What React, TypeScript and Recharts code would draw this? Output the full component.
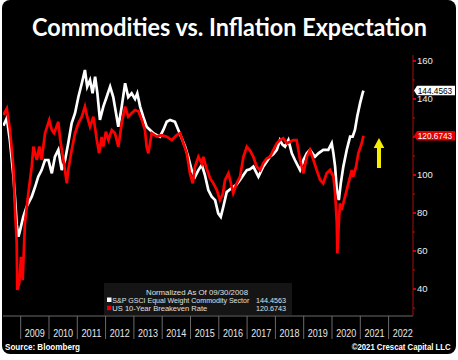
import React from "react";
import { LineChart, Line, XAxis, YAxis, ReferenceLine, ReferenceDot } from "recharts";

// ---- Data (decimal year, normalized value) ----
const whiteT = [2008.39, 2008.51, 2008.62, 2008.74, 2008.8, 2008.86, 2008.92, 2008.98, 2009.09, 2009.21, 2009.3, 2009.39, 2009.51, 2009.62, 2009.74, 2009.86, 2009.98, 2010.1, 2010.21, 2010.33, 2010.45, 2010.57, 2010.68, 2010.8, 2010.92, 2011.04, 2011.16, 2011.27, 2011.35, 2011.45, 2011.54, 2011.63, 2011.71, 2011.8, 2011.92, 2012.04, 2012.16, 2012.27, 2012.39, 2012.45, 2012.57, 2012.69, 2012.8, 2012.92, 2013.04, 2013.12, 2013.22, 2013.33, 2013.45, 2013.57, 2013.69, 2013.81, 2013.92, 2014.04, 2014.16, 2014.28, 2014.45, 2014.57, 2014.69, 2014.81, 2014.92, 2015.04, 2015.16, 2015.28, 2015.4, 2015.51, 2015.63, 2015.75, 2015.87, 2015.98, 2016.07, 2016.16, 2016.28, 2016.4, 2016.51, 2016.63, 2016.75, 2016.87, 2016.99, 2017.1, 2017.22, 2017.4, 2017.57, 2017.69, 2017.81, 2017.93, 2018.05, 2018.16, 2018.25, 2018.34, 2018.46, 2018.58, 2018.69, 2018.87, 2018.99, 2019.11, 2019.22, 2019.4, 2019.52, 2019.69, 2019.87, 2019.99, 2020.05, 2020.11, 2020.17, 2020.24, 2020.31, 2020.4, 2020.52, 2020.64, 2020.73, 2020.81, 2020.89, 2020.99, 2021.08, 2021.11];
const whiteV = [126, 130, 118, 100, 88, 74, 67.5, 71, 78, 83.3, 86, 88.6, 93.8, 99.1, 102.6, 107.9, 107.9, 100.9, 109.6, 113.2, 102.6, 107.9, 116.7, 127.2, 132.5, 141.2, 148.3, 155.3, 146.5, 150, 143, 151.7, 143, 129, 136, 141.2, 146.5, 141, 130.7, 125.4, 136, 148.3, 141, 143, 140, 143, 136, 130.7, 125.4, 123.7, 122, 121, 120.2, 123.7, 128, 129, 128, 123.7, 119.3, 114.9, 109.6, 102.6, 99.1, 102.6, 105.3, 100, 92.1, 88.6, 86.8, 79.8, 78, 83.3, 91, 92.5, 93.8, 95, 97.4, 100, 102.6, 103, 104.4, 99.1, 104.4, 107, 109.6, 111, 113.2, 118.4, 116, 114.9, 118.4, 111.4, 107.9, 102.6, 107.9, 111.4, 113.2, 109.6, 111.4, 113.2, 113.2, 116.7, 111.4, 104.4, 92.1, 86.8, 95.6, 104.4, 113.2, 120.2, 120.2, 123.7, 130.7, 137.7, 143, 144.4563];

const redT = [2008.39, 2008.51, 2008.62, 2008.74, 2008.8, 2008.86, 2008.88, 2008.95, 2009.01, 2009.07, 2009.15, 2009.27, 2009.39, 2009.45, 2009.57, 2009.66, 2009.74, 2009.86, 2010.01, 2010.1, 2010.18, 2010.33, 2010.39, 2010.51, 2010.63, 2010.68, 2010.8, 2010.92, 2011.04, 2011.16, 2011.27, 2011.35, 2011.45, 2011.57, 2011.69, 2011.77, 2011.86, 2011.92, 2012.01, 2012.1, 2012.22, 2012.33, 2012.45, 2012.57, 2012.69, 2012.8, 2012.92, 2013.04, 2013.16, 2013.28, 2013.39, 2013.45, 2013.51, 2013.63, 2013.81, 2013.98, 2014.16, 2014.34, 2014.51, 2014.63, 2014.75, 2014.87, 2014.98, 2015.08, 2015.16, 2015.28, 2015.4, 2015.45, 2015.57, 2015.69, 2015.81, 2015.93, 2016.04, 2016.14, 2016.22, 2016.34, 2016.4, 2016.51, 2016.63, 2016.75, 2016.87, 2016.99, 2017.1, 2017.22, 2017.34, 2017.46, 2017.57, 2017.69, 2017.81, 2017.93, 2018.05, 2018.16, 2018.28, 2018.4, 2018.52, 2018.63, 2018.75, 2018.87, 2018.99, 2019.11, 2019.22, 2019.34, 2019.46, 2019.58, 2019.69, 2019.81, 2019.93, 2020.05, 2020.11, 2020.17, 2020.19, 2020.24, 2020.28, 2020.34, 2020.46, 2020.58, 2020.7, 2020.75, 2020.85, 2020.93, 2021.05, 2021.11];
const redV = [131.6, 135, 123.7, 104.4, 81.6, 64.2, 39.5, 43, 57, 44.7, 74.7, 90.5, 104.4, 114.9, 107.9, 115, 108, 122, 129, 123.7, 122, 128, 119.3, 108, 95.6, 102.6, 113, 122, 127.2, 130.7, 136, 130.7, 125.4, 130.7, 118.4, 111.6, 120, 115, 122.8, 118.4, 123.7, 122, 114.9, 127.2, 136, 130.7, 132.5, 134.2, 133.5, 129, 123.7, 114.9, 111.4, 122, 120.2, 121, 120.2, 118.4, 121, 122, 116.7, 111.4, 100.9, 95.6, 104.4, 109.6, 106, 109.6, 103.5, 98.3, 95.6, 92.1, 86.8, 90, 97.4, 100.9, 97.4, 90.4, 95.6, 99.1, 109.6, 114.9, 113, 109.6, 104.4, 102.6, 106.2, 108.7, 109.6, 113.2, 116.7, 118.4, 119.3, 116.7, 117.5, 118.4, 118.4, 108, 100.9, 109.6, 113.2, 108, 102.6, 97.4, 95.6, 100.9, 102.6, 99.1, 90.4, 74.6, 58.8, 74.6, 85.1, 81.6, 88.6, 95.6, 102.6, 99.1, 104.4, 111.4, 116.7, 120.6743];

const years = [2009, 2010, 2011, 2012, 2013, 2014, 2015, 2016, 2017, 2018, 2019, 2020, 2021, 2022];
const yTicks = [30, 40, 50, 60, 70, 80, 90, 100, 110, 120, 130, 140, 150, 160];
const seriesNames = ["S&P GSCI Equal Weight Commodity Sector", "US 10-Year Breakeven Rate"];
const lastWhite = whiteV[whiteV.length - 1];
const lastRed = redV[redV.length - 1];
const tagValues = [lastWhite, lastRed];
const arrowAt = { t: 2021.66, v: 103.7 };

const whiteData = whiteT.map((t, i) => ({ t, v: whiteV[i] }));
const redData = redT.map((t, i) => ({ t, v: redV[i] }));
const xTicks = [...years, ...years.map((y) => y + 0.5)].sort((a, b) => a - b);

const fmt = (v: number) => v.toFixed(4);

const XTick = (p: any) => {
  const v = p.payload.value;
  if (Number.isInteger(v)) {
    return <line x1={p.x} x2={p.x} y1={p.y} y2={p.y + 23} stroke="#6a6a6a" strokeWidth={1} />;
  }
  return (
    <text x={p.x} y={p.y + 21} textAnchor="middle" fill="#e8e8e8" fontSize={10} fontFamily="'Liberation Sans', Arial, sans-serif" textLength={20} lengthAdjust="spacingAndGlyphs">
      {Math.floor(v)}
    </text>
  );
};

const YTick = (p: any) => {
  const v = p.payload.value;
  const major = v % 20 === 0;
  const covered = tagValues.some((tv) => Math.abs(tv - v) < 2.5);
  return (
    <g>
      <line x1={p.x} x2={p.x + (major ? 3 : 2)} y1={p.y} y2={p.y} stroke="#d00000" strokeWidth={major ? 2 : 1} />
      {major && !covered && (
        <text x={p.x + 4} y={p.y} dy="0.36em" fill="#eeeeee" fontSize={9.5} fontFamily="'Liberation Sans', Arial, sans-serif">
          {v}
        </text>
      )}
    </g>
  );
};

const Tag = ({ viewBox, text, bg, fg }: any) => {
  if (!viewBox) return null;
  const x = viewBox.x + viewBox.width;
  const y = viewBox.y;
  return (
    <g>
      <path d={`M${x + 1},${y} L${x + 4},${y - 4.8} H${x + 42} V${y + 4.8} H${x + 4} Z`} fill={bg} />
      <text x={x + 4.7} y={y} dy="0.36em" fontSize={9} fill={fg} fontFamily="'Liberation Sans', Arial, sans-serif" textLength={34.5} lengthAdjust="spacingAndGlyphs">
        {text}
      </text>
    </g>
  );
};

const Arrow = (p: any) => {
  const { cx, cy } = p;
  if (cx == null || cy == null) return null;
  const pts = [
    [cx - 2, cy],
    [cx + 2, cy],
    [cx + 2, cy - 20],
    [cx + 5.3, cy - 20],
    [cx, cy - 30],
    [cx - 5.3, cy - 20],
    [cx - 2, cy - 20],
  ]
    .map((q) => q.join(","))
    .join(" ");
  return <polygon points={pts} fill="#f7ef00" />;
};

export default function App() {
  const font = "'Liberation Sans', Arial, sans-serif";
  const lf = 7.6;
  return (
    <div style={{ position: "absolute", left: 0, top: 0, width: 458, height: 360, background: "#ffffff", overflow: "hidden" }}>
      <div style={{ position: "absolute", left: 2, top: 0, width: 454, height: 354, background: "#000", borderRadius: 8 }} />
      <div style={{ position: "absolute", left: 0, top: 0 }}>
        <LineChart width={458} height={360} margin={{ top: 55, right: 0, bottom: 18, left: 3 }}>
          <XAxis
            dataKey="t"
            type="number"
            domain={[2008.375, 2022.862]}
            ticks={xTicks}
            interval={0}
            allowDataOverflow
            height={26}
            axisLine={{ stroke: "#6a6a6a" }}
            tickLine={false}
            tickSize={0}
            tickMargin={0}
            tick={<XTick />}
          />
          <YAxis
            type="number"
            orientation="right"
            domain={[25.8, 163.16]}
            ticks={yTicks}
            interval={0}
            allowDataOverflow
            width={45}
            axisLine={{ stroke: "#8a0c0c", strokeWidth: 1.2 }}
            tickLine={false}
            tickSize={0}
            tickMargin={0}
            tick={<YTick />}
          />
          <Line data={whiteData} dataKey="v" type="linear" stroke="#ffffff" strokeWidth={2.7} dot={false} isAnimationActive={false} />
          <Line data={redData} dataKey="v" type="linear" stroke="#ff0000" strokeWidth={2.7} dot={false} isAnimationActive={false} />
          <ReferenceLine y={lastWhite} stroke="none" label={(props: any) => <Tag viewBox={props.viewBox} text={fmt(lastWhite)} bg="#ffffff" fg="#000000" />} />
          <ReferenceLine y={lastRed} stroke="none" label={(props: any) => <Tag viewBox={props.viewBox} text={fmt(lastRed)} bg="#e30000" fg="#ffffff" />} />
          <ReferenceDot x={arrowAt.t} y={arrowAt.v} r={0} shape={(p: any) => <Arrow {...p} />} />
        </LineChart>
      </div>
      <svg width={458} height={360} style={{ position: "absolute", left: 0, top: 0, pointerEvents: "none" }}>
        <text x={32} y={35.5} fill="#ffffff" fontSize={24} fontWeight="bold" fontFamily="Lato, 'Open Sans', sans-serif" textLength={395} lengthAdjust="spacingAndGlyphs">
          Commodities vs. Inflation Expectation
        </text>
        <rect x={104} y={283} width={188} height={32} fill="#151515" />
        <text x={146} y={294.5} fill="#e0e0e0" fontSize={lf} fontFamily={font} textLength={102} lengthAdjust="spacingAndGlyphs">
          Normalized As Of 09/30/2008
        </text>
        <rect x={107} y={297.5} width={4.5} height={4.5} fill="#ffffff" />
        <text x={112.3} y={302.5} fill="#e0e0e0" fontSize={lf} fontFamily={font} textLength={137} lengthAdjust="spacingAndGlyphs">
          {seriesNames[0]}
        </text>
        <text x={256} y={302.5} fill="#e0e0e0" fontSize={lf} fontFamily={font} textLength={30} lengthAdjust="spacingAndGlyphs">
          {fmt(lastWhite)}
        </text>
        <rect x={107} y={305.7} width={4.5} height={4.5} fill="#e30000" />
        <text x={112.3} y={310.5} fill="#e0e0e0" fontSize={lf} fontFamily={font} textLength={95} lengthAdjust="spacingAndGlyphs">
          {seriesNames[1]}
        </text>
        <text x={256} y={310.5} fill="#e0e0e0" fontSize={lf} fontFamily={font} textLength={30} lengthAdjust="spacingAndGlyphs">
          {fmt(lastRed)}
        </text>
        <text x={5} y={349.5} fill="#ffffff" fontSize={8.5} fontWeight="bold" fontFamily={font} textLength={75} lengthAdjust="spacingAndGlyphs">
          Source: Bloomberg
        </text>
        <text x={351.7} y={349.5} fill="#ffffff" fontSize={8.5} fontWeight="bold" fontFamily={font} textLength={99} lengthAdjust="spacingAndGlyphs">
          ©2021 Crescat Capital LLC
        </text>
      </svg>
    </div>
  );
}
